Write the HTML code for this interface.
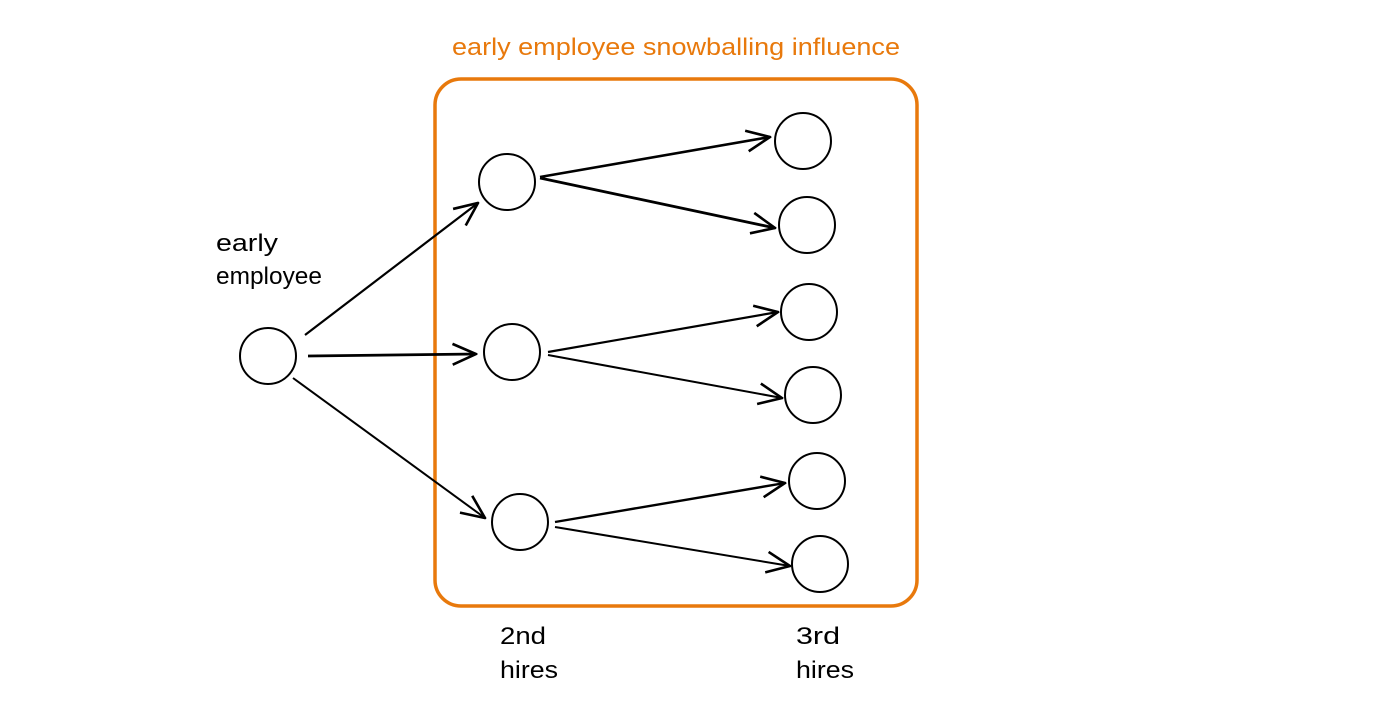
<!DOCTYPE html>
<html><head><meta charset="utf-8"><style>
html,body{margin:0;padding:0;background:#fff;}
svg{display:block}
text{font-family:"Liberation Sans",sans-serif;}
</style></head><body>
<svg width="1379" height="711" viewBox="0 0 1379 711" xmlns="http://www.w3.org/2000/svg">
<defs>
<marker id="a" viewBox="0 0 20 20" refX="19" refY="10" markerWidth="26" markerHeight="26" markerUnits="userSpaceOnUse" orient="auto">
<path d="M1,2 L19,10 L1,18" fill="none" stroke="#000" stroke-width="2"/>
</marker>
</defs>
<text x="452" y="55" font-size="24" fill="#e8790c" textLength="448" lengthAdjust="spacingAndGlyphs">early employee snowballing influence</text>
<rect x="435" y="79" width="482" height="527" rx="26" fill="none" stroke="#e8790c" stroke-width="3.5"/>
<g fill="none" stroke="#000" stroke-width="2">
<circle cx="268" cy="356" r="28"/>
<circle cx="507" cy="182" r="28"/>
<circle cx="512" cy="352" r="28"/>
<circle cx="520" cy="522" r="28"/>
<circle cx="803" cy="141" r="28"/>
<circle cx="807" cy="225" r="28"/>
<circle cx="809" cy="312" r="28"/>
<circle cx="813" cy="395" r="28"/>
<circle cx="817" cy="481" r="28"/>
<circle cx="820" cy="564" r="28"/>
<g marker-end="url(#a)">
<line x1="305" y1="335" x2="478" y2="203" stroke-width="2.2"/>
<line x1="308" y1="356" x2="476" y2="354" stroke-width="2.8"/>
<line x1="293" y1="378" x2="485" y2="518"/>
<line x1="540" y1="177" x2="770" y2="137" stroke-width="2.6"/>
<line x1="540" y1="178" x2="775" y2="228" stroke-width="2.8"/>
<line x1="548" y1="352" x2="778" y2="312" stroke-width="2.2"/>
<line x1="548" y1="355" x2="782" y2="398"/>
<line x1="555" y1="522" x2="785" y2="483" stroke-width="2.4"/>
<line x1="555" y1="527" x2="790" y2="566"/>
</g>
</g>
<g font-size="24" fill="#000">
<text x="216" y="251" textLength="62" lengthAdjust="spacingAndGlyphs">early</text>
<text x="216" y="284" textLength="106" lengthAdjust="spacingAndGlyphs">employee</text>
<text x="500" y="644" textLength="46" lengthAdjust="spacingAndGlyphs">2nd</text>
<text x="500" y="678" textLength="58" lengthAdjust="spacingAndGlyphs">hires</text>
<text x="796" y="644" textLength="44" lengthAdjust="spacingAndGlyphs">3rd</text>
<text x="796" y="678" textLength="58" lengthAdjust="spacingAndGlyphs">hires</text>
</g>
</svg>
</body></html>
